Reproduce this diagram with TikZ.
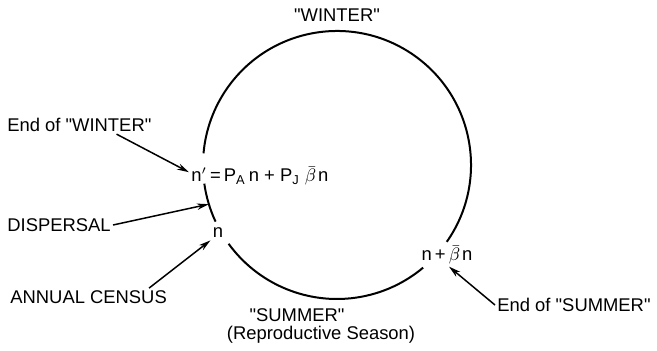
\documentclass[tikz,border=0pt]{standalone}
\usepackage{fontspec}
\setmainfont{Liberation Sans}
\usetikzlibrary{arrows.meta,calc}
\newcommand\qt{\textquotedbl}

\begin{document}
\begin{tikzpicture}[x=0.5pt,y=0.5pt,font=\fontsize{9.2}{11}\selectfont,inner sep=1pt,
  arr/.style={-{Stealth[length=6pt,width=3.2pt]},line width=0.75pt}]
  \useasboundingbox (0,0) rectangle (657,351);
  \coordinate (c) at (337,186);
  % the yearly cycle, broken where the values are written on it
  \foreach \a/\b in {-35/175,188/205,216/310}
    {\draw[line width=1pt] ($(c)+(\a:134)$) arc[start angle=\a,end angle=\b,radius=134];}
  \coordinate (dp) at ($(c)+(197:134)$);
  \node (wi) at (337,336) {\qt WINTER\qt};
  \node (sm) at (297,36) {\qt SUMMER\qt};
  \node (rs) at (321,16) {(Reproductive Season)};
  \node[anchor=base west] (fm) at (189,169) {n$'$\,=\,P\textsubscript{A}\,n + P\textsubscript{J} $\bar{\beta}$\kern1pt n};
  \node (n) at (218,118) {n};
  \node (nb) at (447,96) {n\,+\,$\bar{\beta}$\kern1pt n};
  \node[anchor=west] (ew) at (5,226) {End of \qt WINTER\qt};
  \node[anchor=west] (ds) at (5,126) {DISPERSAL};
  \node[anchor=west] (ac) at (8,54) {ANNUAL CENSUS};
  \node[anchor=west] (es) at (495,46) {End of \qt SUMMER\qt};
  \draw[arr] ($(ew.south)!0.5!(ew.south east)$) -- ([yshift=2pt]fm.west);
  \draw[arr] (ds.east) -- (dp);
  \draw[arr] ($(ac.north)!0.75!(ac.north east)$) -- (n.south west);
  \draw[arr] (es.west) -- ([xshift=1pt]nb.south);
\end{tikzpicture}
\end{document}
